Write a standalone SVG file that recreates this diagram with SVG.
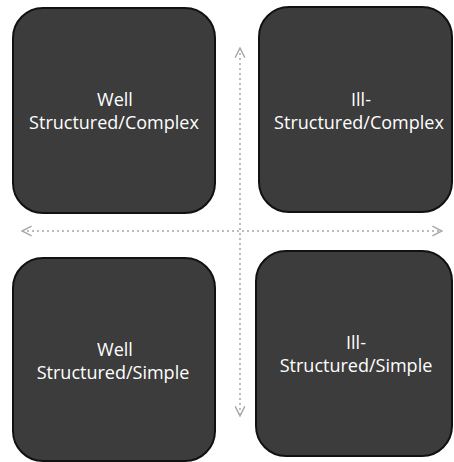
<svg xmlns="http://www.w3.org/2000/svg" width="454" height="462" viewBox="0 0 454 462">
<style>
.box{fill:#3c3c3c;stroke:#111;stroke-width:2}
.lbl{font-family:"Open Sans","Liberation Sans",sans-serif;font-size:18px;fill:#fff;text-anchor:middle}
.ax{stroke:#a8a8a8;stroke-width:1.5;stroke-dasharray:2 3;fill:none}
</style>
<defs>
<marker id="ah" viewBox="0 0 10 10" refX="9" refY="5" markerWidth="8" markerHeight="8" orient="auto-start-reverse">
<path d="M1,1 L9,5 L1,9" fill="none" stroke="#a8a8a8" stroke-width="1.2"/>
</marker>
</defs>
<rect width="454" height="462" fill="#fff"/>
<g id="connectors">
<line class="ax" x1="22" y1="231" x2="442" y2="231" marker-start="url(#ah)" marker-end="url(#ah)"/>
<line class="ax" x1="240" y1="48" x2="240" y2="416" marker-start="url(#ah)" marker-end="url(#ah)"/>
</g>
<g id="n1">
<rect class="box" x="13" y="8" width="202" height="205" rx="30"/>
<text class="lbl" x="115" y="106">Well</text>
<text class="lbl" x="114" y="129">Structured/Complex</text>
</g>
<g id="n2">
<rect class="box" x="259" y="7" width="193" height="205" rx="30"/>
<text class="lbl" x="361" y="106">Ill-</text>
<text class="lbl" x="359" y="129">Structured/Complex</text>
</g>
<g id="n3">
<rect class="box" x="13" y="258" width="202" height="203" rx="30"/>
<text class="lbl" x="115" y="356">Well</text>
<text class="lbl" x="113" y="379">Structured/Simple</text>
</g>
<g id="n4">
<rect class="box" x="256" y="251" width="196" height="205" rx="30"/>
<text class="lbl" x="356" y="349">Ill-</text>
<text class="lbl" x="356" y="372">Structured/Simple</text>
</g>
</svg>
